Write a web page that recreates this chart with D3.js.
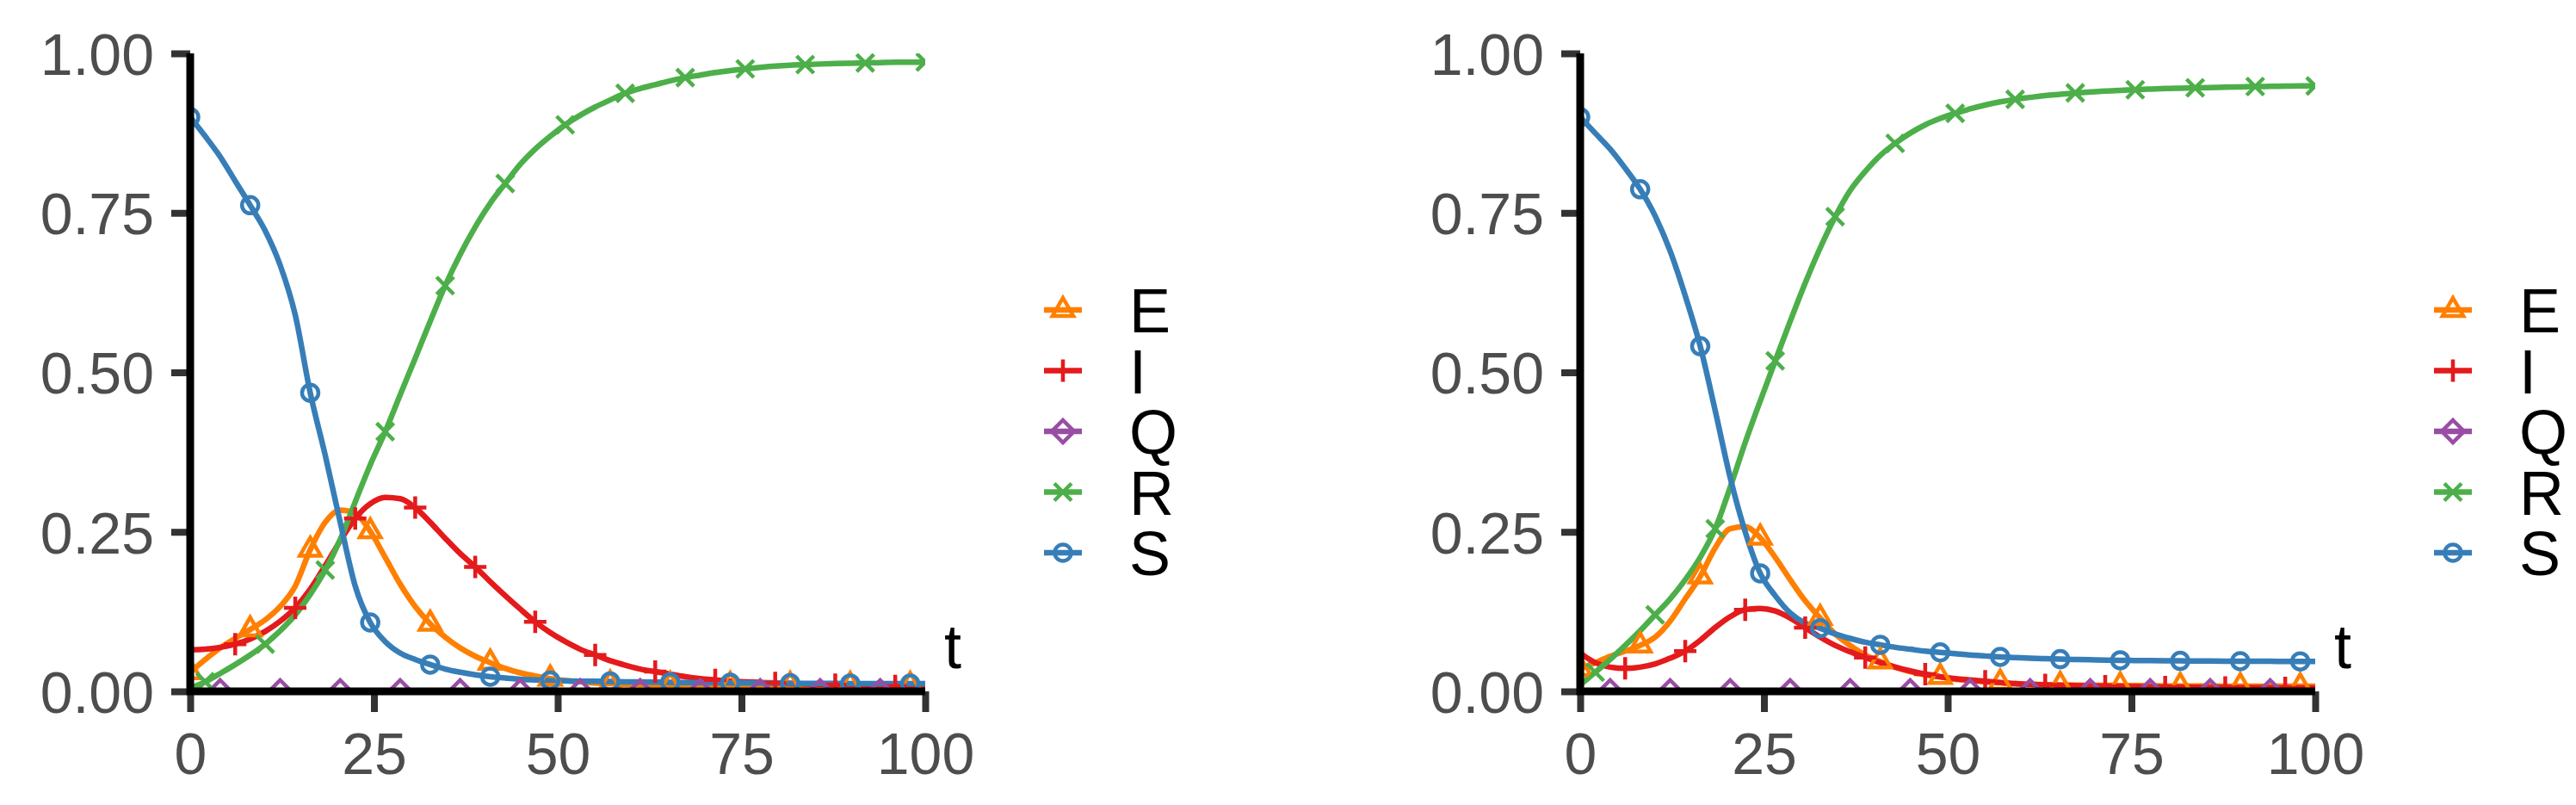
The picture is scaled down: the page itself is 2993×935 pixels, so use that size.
<!DOCTYPE html>
<html><head><meta charset="utf-8">
<script src="https://cdn.jsdelivr.net/npm/d3@7"></script>
<style>html,body{margin:0;padding:0;background:#fff;} svg{display:block;}</style>
</head><body><svg id="chart" width="2993" height="935"></svg>
<script>
// ---------------- data ----------------
const tValues = [0,2.04,4.08,6.12,8.16,10.2,12.24,14.29,16.33,18.37,20.41,22.45,24.49,26.53,28.57,30.61,32.65,34.69,36.73,38.78,40.82,42.86,44.9,46.94,48.98,51.02,53.06,55.1,57.14,59.18,61.22,63.27,65.31,67.35,69.39,71.43,73.47,75.51,77.55,79.59,81.63,83.67,85.71,87.76,89.8,91.84,93.88,95.92,97.96,100];

const seriesNames = ["E","I","Q","R","S"];
const seriesColors = ["#FF7F00","#E41A1C","#984EA3","#4DAF4A","#377EB8"];
const markerPhase = [0,3,2,1,0];

const leftE = [0.030,0.050,0.068,0.083,0.097,0.112,0.133,0.165,0.222,0.265,0.284,0.279,0.251,0.210,0.168,0.133,0.106,0.085,0.068,0.055,0.045,0.036,0.029,0.024,0.020,0.017,0.015,0.013,0.012,0.011,0.0105,0.010,0.010,0.010,0.010,0.010,0.010,0.010,0.010,0.010,0.010,0.010,0.010,0.010,0.010,0.010,0.010,0.010,0.010,0.010];
const leftI = [0.065,0.066,0.069,0.074,0.082,0.094,0.110,0.131,0.160,0.197,0.236,0.271,0.294,0.304,0.302,0.288,0.265,0.240,0.216,0.195,0.172,0.150,0.129,0.109,0.092,0.078,0.066,0.057,0.048,0.041,0.035,0.031,0.027,0.023,0.020,0.018,0.016,0.015,0.014,0.013,0.012,0.0115,0.011,0.0105,0.010,0.0095,0.009,0.0085,0.008,0.008];
const leftQ = [0,0,0,0,0,0,0,0,0,0,0,0,0,0,0,0,0,0,0,0,0,0,0,0,0,0,0,0,0,0,0,0,0,0,0,0,0,0,0,0,0,0,0,0,0,0,0,0,0,0];
const leftR = [0.005,0.015,0.028,0.042,0.057,0.074,0.095,0.120,0.152,0.190,0.238,0.297,0.355,0.407,0.465,0.522,0.580,0.636,0.685,0.728,0.765,0.796,0.826,0.850,0.870,0.888,0.903,0.916,0.927,0.9375,0.945,0.951,0.957,0.962,0.966,0.970,0.973,0.9757,0.978,0.980,0.9815,0.9825,0.9833,0.984,0.9845,0.985,0.9855,0.986,0.986,0.9865];
const leftS = [0.900,0.870,0.838,0.800,0.762,0.722,0.668,0.590,0.468,0.370,0.265,0.165,0.108,0.078,0.060,0.050,0.042,0.035,0.030,0.026,0.023,0.021,0.019,0.018,0.017,0.0165,0.016,0.0158,0.0155,0.015,0.0148,0.0145,0.0143,0.014,0.0138,0.0136,0.0134,0.0132,0.013,0.0128,0.0127,0.0126,0.0125,0.0124,0.0123,0.0122,0.0121,0.012,0.012,0.012];

const rightE = [0.035,0.045,0.055,0.063,0.072,0.085,0.110,0.145,0.180,0.225,0.255,0.258,0.241,0.210,0.175,0.142,0.115,0.090,0.072,0.057,0.047,0.038,0.031,0.026,0.0225,0.019,0.017,0.015,0.0135,0.012,0.011,0.0105,0.010,0.0098,0.0096,0.0094,0.0092,0.009,0.0088,0.0086,0.0085,0.0084,0.0083,0.0082,0.0081,0.008,0.008,0.008,0.008,0.008];
const rightI = [0.060,0.045,0.038,0.036,0.038,0.043,0.052,0.063,0.080,0.100,0.117,0.128,0.130,0.126,0.115,0.100,0.085,0.072,0.062,0.053,0.045,0.038,0.032,0.027,0.023,0.020,0.018,0.016,0.014,0.012,0.011,0.010,0.0095,0.009,0.0085,0.008,0.0077,0.0074,0.0071,0.0068,0.0066,0.0064,0.0062,0.006,0.0058,0.0057,0.0056,0.0055,0.0054,0.0053];
const rightQ = [0,0,0,0,0,0,0,0,0,0,0,0,0,0,0,0,0,0,0,0,0,0,0,0,0,0,0,0,0,0,0,0,0,0,0,0,0,0,0,0,0,0,0,0,0,0,0,0,0,0];
const rightR = [0.010,0.030,0.050,0.072,0.095,0.120,0.145,0.175,0.210,0.255,0.320,0.390,0.455,0.518,0.580,0.640,0.695,0.744,0.785,0.815,0.840,0.859,0.875,0.888,0.898,0.906,0.913,0.919,0.924,0.928,0.931,0.934,0.936,0.938,0.9395,0.941,0.942,0.943,0.944,0.945,0.9455,0.946,0.9465,0.947,0.9475,0.948,0.9483,0.9486,0.949,0.949];
const rightS = [0.900,0.875,0.850,0.820,0.787,0.745,0.690,0.620,0.541,0.440,0.335,0.250,0.185,0.150,0.123,0.107,0.099,0.090,0.083,0.077,0.073,0.069,0.066,0.063,0.061,0.059,0.057,0.0555,0.054,0.053,0.052,0.0512,0.0505,0.050,0.0495,0.049,0.0487,0.0484,0.0482,0.048,0.0478,0.0476,0.0475,0.0474,0.0473,0.0472,0.0471,0.047,0.047,0.047];

const xTickValues = [0,25,50,75,100];
const xTickLabels = ["0","25","50","75","100"];
const yTickValues = [0,0.25,0.5,0.75,1];
const yTickLabels = ["0.00","0.25","0.50","0.75","1.00"];
const axisTitle = "t";

// ---------------- drawing ----------------
const svg = d3.select("#chart");
svg.append("rect").attr("width",2993).attr("height",935).attr("fill","#fff");
const FONT = "'Liberation Sans', Arial, Helvetica, sans-serif";

function shapePath(name){
  if(name==="E"){ const r=14; return `M0,${-r}L${r*0.866},${r/2}L${-r*0.866},${r/2}Z`; }
  if(name==="I"){ const a=13; return `M${-a},0H${a}M0,${-a}V${a}`; }
  if(name==="Q"){ const a=13; return `M0,${-a}L${a},0L0,${a}L${-a},0Z`; }
  if(name==="R"){ const a=10; return `M${-a},${-a}L${a},${a}M${-a},${a}L${a},${-a}`; }
  const p=d3.path(); p.arc(0,0,9.5,0,2*Math.PI); return p.toString();
}

const panels = [
  {id:"L", left:221, right:1075, series:[leftE,leftI,leftQ,leftR,leftS]},
  {id:"R", left:1836, right:2690, series:[rightE,rightI,rightQ,rightR,rightS]}
];
const TOP=62, BOTTOM=803;

panels.forEach(pn=>{
  const x = d3.scaleLinear().domain([0,100]).range([pn.left,pn.right]);
  const y = d3.scaleLinear().domain([0,1]).range([BOTTOM,TOP]);
  const clipId = "clip"+pn.id;
  svg.append("clipPath").attr("id",clipId).append("rect")
    .attr("x",pn.left).attr("y",TOP).attr("width",pn.right-pn.left).attr("height",BOTTOM-TOP);
  const g = svg.append("g").attr("clip-path",`url(#${clipId})`);
  const line = d3.line().x((d,i)=>x(tValues[i])).y(d=>y(d)).curve(d3.curveMonotoneX);
  pn.series.forEach((vals,si)=>{
    g.append("path").attr("d",line(vals)).attr("fill","none")
      .attr("stroke",seriesColors[si]).attr("stroke-width",6.5).attr("stroke-linejoin","round");
  });
  pn.series.forEach((vals,si)=>{
    const pts = vals.map((v,i)=>({t:tValues[i],v,i})).filter(d=>d.i%4===markerPhase[si]);
    g.selectAll(null).data(pts).enter().append("path")
      .attr("d",shapePath(seriesNames[si]))
      .attr("transform",d=>`translate(${x(d.t)},${y(d.v)})`)
      .attr("fill","none").attr("stroke",seriesColors[si]).attr("stroke-width",4.5);
  });

  // axes
  const yAxis = d3.axisLeft(y).tickValues(yTickValues).tickFormat((d,i)=>yTickLabels[i]).tickSize(22).tickPadding(20);
  const ya = svg.append("g").attr("transform",`translate(${pn.left},0)`).call(yAxis);
  const xAxis = d3.axisBottom(x).tickValues(xTickValues).tickFormat((d,i)=>xTickLabels[i]).tickSize(24).tickPadding(24);
  const xa = svg.append("g").attr("transform",`translate(0,${BOTTOM})`).call(xAxis);
  [ya,xa].forEach(a=>{
    a.select(".domain").remove();
    a.selectAll(".tick line").attr("stroke","#333").attr("stroke-width",8);
    a.selectAll(".tick text").attr("fill","#4D4D4D").attr("font-family",FONT).attr("font-size",68);
  });
  xa.selectAll(".tick text").attr("dy","0.71em");
  ya.selectAll(".tick text").attr("dy","0.36em");
  svg.append("line").attr("x1",pn.left).attr("x2",pn.left).attr("y1",TOP).attr("y2",BOTTOM+4)
    .attr("stroke","#000").attr("stroke-width",9);
  svg.append("line").attr("x1",pn.left-4).attr("x2",pn.right).attr("y1",BOTTOM).attr("y2",BOTTOM)
    .attr("stroke","#000").attr("stroke-width",9);

  svg.append("text").attr("x",pn.right+22).attr("y",776).text(axisTitle)
    .attr("font-family",FONT).attr("font-size",72).attr("fill","#000");

  // legend
  const lg = svg.append("g");
  seriesNames.forEach((nm,si)=>{
    const cy = 360 + si*70.5;
    const cx = pn.right + 160;
    lg.append("line").attr("x1",cx-22).attr("x2",cx+22).attr("y1",cy).attr("y2",cy)
      .attr("stroke",seriesColors[si]).attr("stroke-width",6.5);
    lg.append("path").attr("d",shapePath(nm)).attr("transform",`translate(${cx},${cy})`)
      .attr("fill","none").attr("stroke",seriesColors[si]).attr("stroke-width",4.5);
    lg.append("text").attr("x",pn.right+237).attr("y",cy+26).text(nm)
      .attr("font-family",FONT).attr("font-size",72).attr("fill","#000");
  });
});
</script>
</body></html>
